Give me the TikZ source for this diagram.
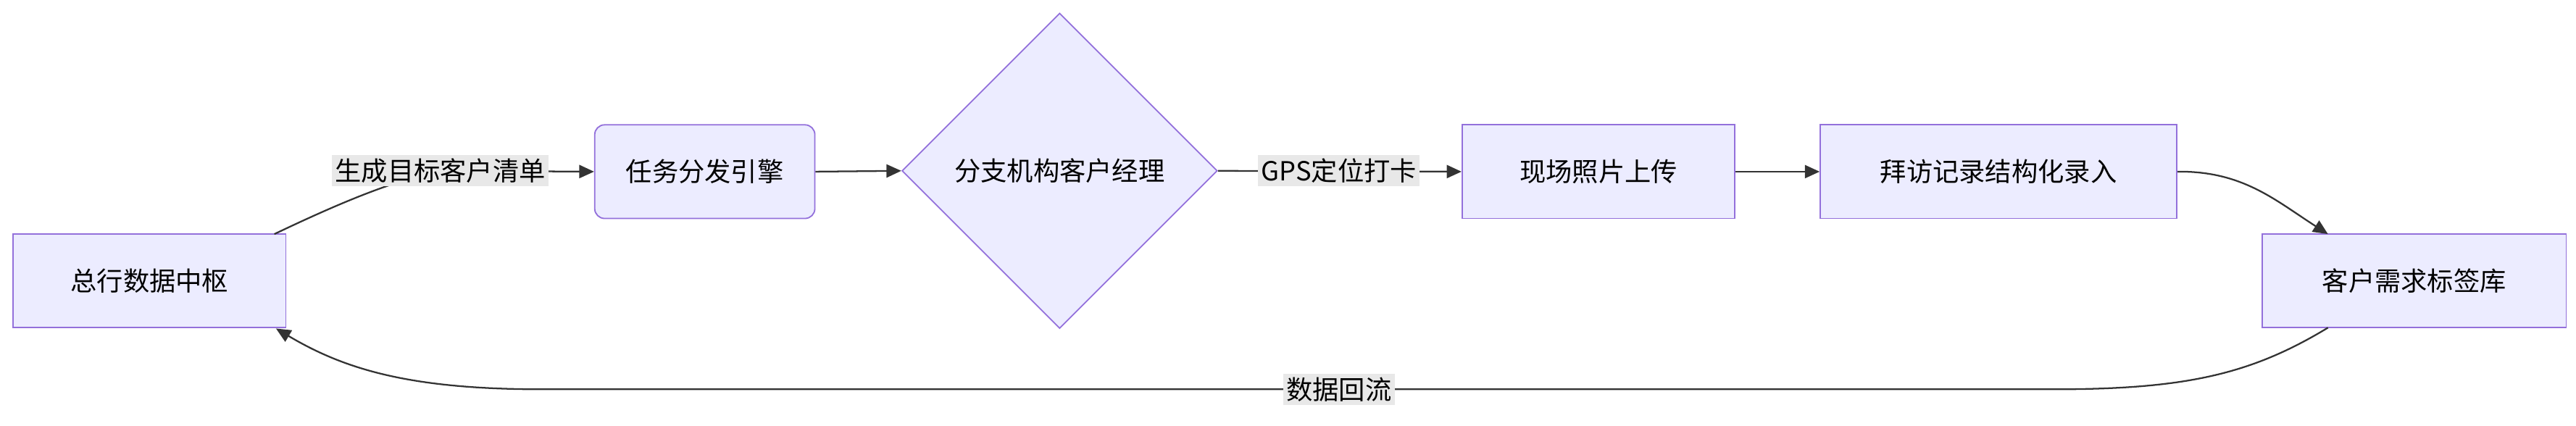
\documentclass[tikz,border=0pt]{standalone}
\usepackage{fontspec}
\setmainfont{Noto Sans CJK SC}
\usetikzlibrary{shapes.geometric,arrows.meta}
\definecolor{boxfill}{HTML}{ECECFF}
\definecolor{boxline}{HTML}{9370DB}
\definecolor{edgecol}{HTML}{333333}
\definecolor{lblbg}{HTML}{E8E8E8}
\tikzset{
  flowbox/.style={draw=boxline,fill=boxfill,line width=0.8pt,minimum height=57pt,inner sep=0pt,font=\fontsize{16}{19}\selectfont},
  edgelbl/.style={fill=lblbg,inner sep=2pt,font=\fontsize{16}{19}\selectfont},
  flow/.style={draw=edgecol,line width=1pt,-{Triangle[length=9pt,width=8pt]}}
}
\begin{document}
\begin{tikzpicture}[x=1pt,y=-1pt]
\useasboundingbox (0,0) rectangle (1568,259);
%%
\node (node_hub) at (91,171) [flowbox,minimum width=166pt] {总行数据中枢};
\node (node_eng) at (429,104.5) [flowbox,rounded corners=6pt,minimum width=134pt] {任务分发引擎};
\node (node_mgr) at (645,104) [flowbox,diamond,minimum width=192pt,minimum height=192pt] {分支机构客户经理};
\node (node_pic) at (973,104.5) [flowbox,minimum width=166pt] {现场照片上传};
\node (node_rec) at (1216.5,104.5) [flowbox,minimum width=217pt] {拜访记录结构化录入};
\node (node_tag) at (1469.5,171) [flowbox,minimum width=185pt] {客户需求标签库};
\coordinate (c_hubtop) at (167,142.5);
\coordinate (c_tagbot) at (1417,199.5);
\coordinate (c_hubbot) at (168,200);
%
\draw [flow] (c_hubtop) .. controls (210,122) and (240,110) .. (268,104) -- (node_eng.west);
\node (lbl_list) at (268,104) [edgelbl] {生成目标客户清单};
\draw [flow] (node_eng.east) -- (node_mgr.west);
\draw [flow] (node_mgr.east) -- (node_pic.west);
\node (lbl_gps) at (815,104) [edgelbl] {GPS定位打卡};
\draw [flow] (node_pic.east) -- (node_rec.west);
\draw [flow] (node_rec.east) .. controls (1365,104) and (1385,122) .. (1417,142.5);
\draw [flow] (c_tagbot) .. controls (1370,228) and (1330,237) .. (1250,237) -- (330,237) .. controls (250,237) and (210,225) .. (c_hubbot);
\node (lbl_back) at (815,237) [edgelbl] {数据回流};
%
\end{tikzpicture}
\end{document}
